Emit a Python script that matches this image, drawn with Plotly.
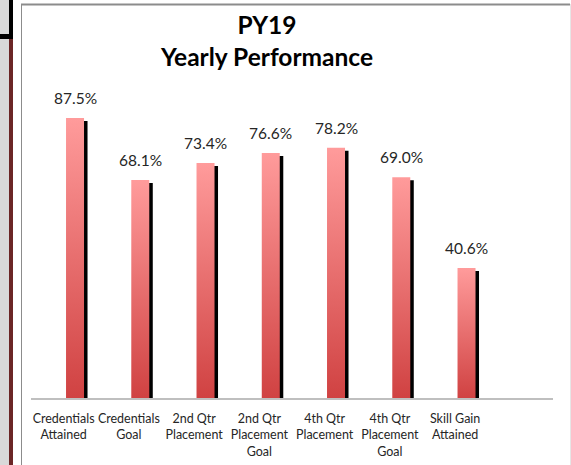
import plotly.graph_objects as go

categories = ["Credentials<br>Attained", "Credentials<br>Goal", "2nd Qtr<br>Placement",
              "2nd Qtr<br>Placement<br>Goal", "4th Qtr<br>Placement", "4th Qtr<br>Placement<br>Goal",
              "Skill Gain<br>Attained"]
values = [87.5, 68.1, 73.4, 76.6, 78.2, 69.0, 40.6]
labels = ["87.5%", "68.1%", "73.4%", "76.6%", "78.2%", "69.0%", "40.6%"]
title_text = "PY19<br>Yearly Performance"

W, H = 571, 465
L, R = 31, 553          # plot area px
T, B = 78, 398
ppu = (R - L) / 8.0     # px per category slot
ypp = (B - T) / 100.0   # px per percent

bar_off = 2.4 / ppu
bar_w = 18 / ppu
sh_dx = 3.5 / ppu
sh_dy = 3 / ypp

FONT = "Lato"

fig = go.Figure()

# shadows
for i, v in enumerate(values):
    x0 = i + bar_off + sh_dx
    x1 = x0 + bar_w
    top = v - sh_dy
    fig.add_trace(go.Scatter(x=[x0, x1, x1, x0, x0], y=[0, 0, top, top, 0], mode="lines",
                             fill="toself", fillcolor="#000000", line=dict(width=0),
                             hoverinfo="skip", showlegend=False))
# gradient bars
for i, v in enumerate(values):
    x0 = i + bar_off
    x1 = x0 + bar_w
    fig.add_trace(go.Scatter(x=[x0, x1, x1, x0, x0], y=[0, 0, v, v, 0], mode="lines",
                             fill="toself", line=dict(width=0),
                             fillgradient=dict(type="vertical",
                                               colorscale=[[0, "#D04242"], [1, "#FF9B9B"]]),
                             hovertemplate=labels[i] + "<extra></extra>", showlegend=False))

annotations = []
for i, (v, t) in enumerate(zip(values, labels)):
    annotations.append(dict(x=i + bar_off + bar_w / 2, y=v, xref="x", yref="y", text=t,
                            showarrow=False, yanchor="bottom", yshift=9,
                            font=dict(family=FONT, size=15.5, color="#262626")))

def px(xp):
    return (xp - L) / (R - L)

def py(yp):
    return (B - yp) / (B - T)

shapes = [
    dict(type="rect", xref="paper", yref="paper", x0=px(0), x1=px(9), y0=py(0), y1=py(H),
         fillcolor="#D9D9D9", line=dict(width=0), layer="below"),
    dict(type="rect", xref="paper", yref="paper", x0=px(9), x1=px(13), y0=py(39), y1=py(H),
         fillcolor="#6B2626", line=dict(width=0), layer="below"),
    dict(type="rect", xref="paper", yref="paper", x0=px(9), x1=px(13), y0=py(0), y1=py(39),
         fillcolor="#000000", line=dict(width=0), layer="below"),
    dict(type="rect", xref="paper", yref="paper", x0=px(0), x1=px(13), y0=py(34), y1=py(39),
         fillcolor="#000000", line=dict(width=0), layer="below"),
    dict(type="line", xref="paper", yref="paper", x0=px(21), x1=px(570), y0=py(4.5), y1=py(4.5),
         line=dict(color="#8C8C8C", width=2), layer="below"),
    dict(type="line", xref="paper", yref="paper", x0=px(21.5), x1=px(21.5), y0=py(4), y1=py(H),
         line=dict(color="#8C8C8C", width=1), layer="below"),
    dict(type="line", xref="paper", yref="paper", x0=px(570.5), x1=px(570.5), y0=py(4), y1=py(H),
         line=dict(color="#E6E6E6", width=1), layer="below"),
]

fig.update_layout(
    width=W, height=H,
    margin=dict(l=L, r=W - R, t=T, b=H - B, autoexpand=False),
    paper_bgcolor="white", plot_bgcolor="white",
    title=dict(text="<b>" + title_text + "</b>", x=267 / W, xref="container", xanchor="center",
               y=1 - 34 / H, yref="container", yanchor="middle",
               font=dict(family=FONT, size=24.5, color="#000000")),
    xaxis=dict(range=[-0.5, 7.5], tickvals=list(range(len(categories))), ticktext=categories,
               tickangle=0, showgrid=False, zeroline=False, showline=True, automargin=False,
               linecolor="#BFBFBF", linewidth=2, ticks="", ticklabelstandoff=8,
               tickfont=dict(family=FONT, size=12.5, color="#262626")),
    yaxis=dict(range=[0, 100], visible=False, showgrid=False, zeroline=False, automargin=False),
    shapes=shapes,
    annotations=annotations,
)

fig.write_html("out.html", config={"displayModeBar": False},
               post_script="document.body.style.margin='0';document.body.style.overflow='hidden';")
